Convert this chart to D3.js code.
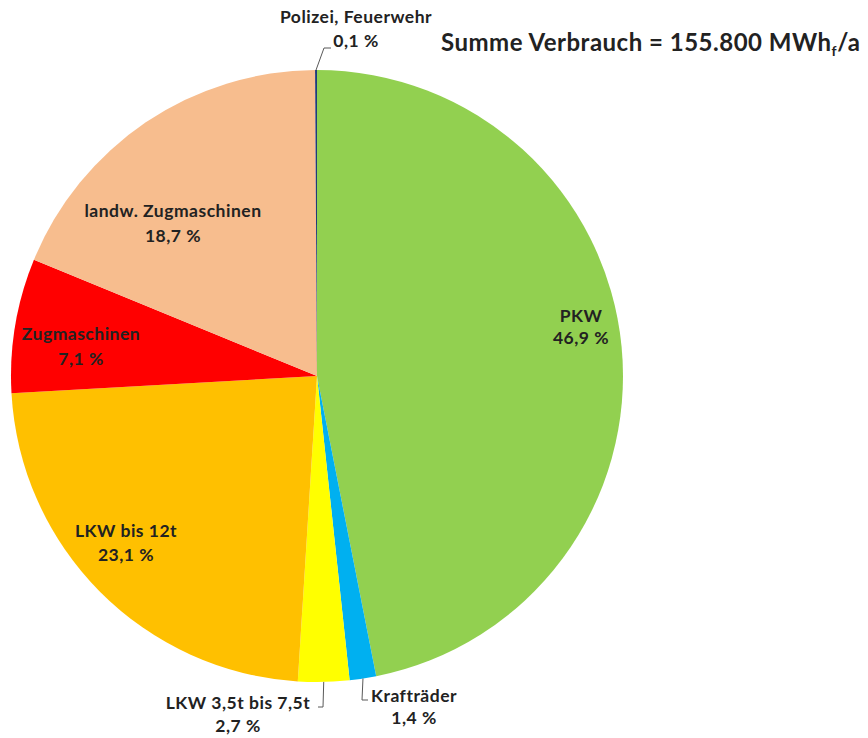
<!DOCTYPE html>
<html>
<head>
<meta charset="utf-8">
<script src="https://cdn.jsdelivr.net/npm/d3@7"></script>
<style>
  body { margin: 0; background: #fff; }
  svg text { font-family: Lato, "Open Sans", sans-serif; font-weight: 700; fill: #222; }
</style>
</head>
<body>
<svg id="chart"></svg>
<script>
let width = 868;
let height = 738;

// data
let categories = ['PKW', 'Krafträder', 'LKW 3,5t bis 7,5t', 'LKW bis 12t', 'Zugmaschinen', 'landw. Zugmaschinen', 'Polizei, Feuerwehr'];
let shares = [46.9, 1.4, 2.7, 23.1, 7.1, 18.7, 0.1];
let shareLabels = ['46,9 %', '1,4 %', '2,7 %', '23,1 %', '7,1 %', '18,7 %', '0,1 %'];
let sliceColors = ['#92d050', '#00b0f0', '#ffff00', '#ffc000', '#ff0000', '#f7bd8e', '#1f3a78'];

let cx = 317, cy = 376, radius = 306;

// label placement (anchor x, name baseline, value baseline) + leader lines for outside labels
let labelPos = {
    'PKW': {x: 581, y1: 322, y2: 344},
    'Krafträder': {x: 414, y1: 702, y2: 724, leader: [[362, 700], [368, 700]]},
    'LKW 3,5t bis 7,5t': {x: 238, y1: 709, y2: 732, leader: [[323, 707], [318, 707]]},
    'LKW bis 12t': {x: 126, y1: 537, y2: 561},
    'Zugmaschinen': {x: 81, y1: 340, y2: 365},
    'landw. Zugmaschinen': {x: 173, y1: 217, y2: 242},
    'Polizei, Feuerwehr': {x: 356, y1: 23, y2: 47, leader: [[324, 48], [331, 48]]}
};

let svg = d3.select('#chart').attr('width', width).attr('height', height);

let colorScale = d3.scaleOrdinal().domain(categories).range(sliceColors);

let pie = d3.pie().sort(null).value((d, i) => shares[i]);
let arcs = pie(categories);
let arc = d3.arc().innerRadius(0).outerRadius(radius);

let g = svg.append('g').attr('transform', `translate(${cx},${cy})`);

g.selectAll('path.slice')
    .data(arcs)
    .join('path')
    .attr('class', 'slice')
    .attr('d', arc)
    .attr('fill', d => colorScale(d.data));

// leader lines start on the rim at the slice middle
svg.selectAll('path.leader')
    .data(arcs.filter(d => labelPos[d.data].leader))
    .join('path')
    .attr('class', 'leader')
    .attr('fill', 'none')
    .attr('stroke', '#595959')
    .attr('stroke-width', 1)
    .attr('d', d => {
        let a = (d.startAngle + d.endAngle) / 2;
        let p0 = [cx + radius * Math.sin(a), cy - radius * Math.cos(a)];
        return d3.line()([p0].concat(labelPos[d.data].leader));
    });

let labels = svg.selectAll('g.label')
    .data(arcs)
    .join('g')
    .attr('class', 'label');

labels.append('text')
    .attr('x', d => labelPos[d.data].x)
    .attr('y', d => labelPos[d.data].y1)
    .attr('text-anchor', 'middle')
    .attr('font-size', 17.5)
    .attr('letter-spacing', 0.5)
    .text(d => d.data);

labels.append('text')
    .attr('x', d => labelPos[d.data].x)
    .attr('y', d => labelPos[d.data].y2)
    .attr('text-anchor', 'middle')
    .attr('font-size', 17.5)
    .attr('letter-spacing', 0.5)
    .text((d, i) => shareLabels[i]);

// total
let title = svg.append('text')
    .attr('x', 441)
    .attr('y', 51)
    .attr('font-size', 24)
    .attr('letter-spacing', 0.5);
title.append('tspan').text('Summe Verbrauch = 155.800 MWh');
title.append('tspan').attr('font-size', 14).attr('dy', 5).text('f');
title.append('tspan').attr('dy', -5).text('/a');
</script>
</body>
</html>
